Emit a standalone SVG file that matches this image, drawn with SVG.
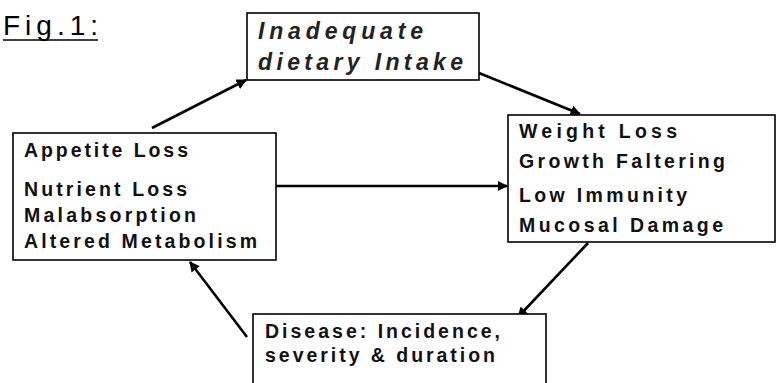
<svg xmlns="http://www.w3.org/2000/svg" width="784" height="383" viewBox="0 0 784 383">
<style>
.box{fill:#fff;stroke:#000;stroke-width:1.6}
.t{font-family:"Liberation Sans",Arial,sans-serif;font-weight:bold;font-size:19.5px;fill:#111}
.it{font-family:"Liberation Sans",Arial,sans-serif;font-weight:bold;font-style:italic;font-size:23px;fill:#222}
.fig{font-family:"Liberation Sans",Arial,sans-serif;font-size:28px;fill:#000}
.c{stroke:#000;stroke-width:2.6;fill:none;marker-end:url(#ah)}
</style>
<defs>
<marker id="ah" viewBox="0 0 10 10" refX="9" refY="5" markerWidth="4" markerHeight="4" orient="auto" markerUnits="strokeWidth">
<path d="M0,0 L10,5 L0,10 z" fill="#000"/>
</marker>
</defs>
<rect width="784" height="383" fill="#fff"/>
<g id="title">
<text class="fig" x="3" y="35" textLength="95" lengthAdjust="spacing">Fig.1:</text>
<line x1="3" y1="40" x2="98" y2="40" stroke="#000" stroke-width="1.6"/>
</g>
<g id="connectors">
<line class="c" x1="152" y1="128" x2="246" y2="80"/>
<line class="c" x1="479" y1="73" x2="580" y2="114"/>
<line class="c" x1="276" y1="186" x2="507" y2="186"/>
<line class="c" x1="588" y1="243" x2="518" y2="317"/>
<line class="c" x1="247" y1="337" x2="190" y2="262"/>
</g>
<g id="intake">
<rect class="box" x="247" y="13" width="232" height="67"/>
<text class="it" x="258" y="39" textLength="165" lengthAdjust="spacing">Inadequate</text>
<text class="it" x="258" y="70" textLength="205" lengthAdjust="spacing">dietary Intake</text>
</g>
<g id="outcomes">
<rect class="box" x="508" y="115" width="267" height="127"/>
<text class="t" x="519" y="138" textLength="158" lengthAdjust="spacing">Weight Loss</text>
<text class="t" x="519" y="168" textLength="206" lengthAdjust="spacing">Growth Faltering</text>
<text class="t" x="519" y="202" textLength="168" lengthAdjust="spacing">Low Immunity</text>
<text class="t" x="519" y="232" textLength="204" lengthAdjust="spacing">Mucosal Damage</text>
</g>
<g id="causes">
<rect class="box" x="13" y="133" width="263" height="127"/>
<text class="t" x="24" y="157" textLength="164" lengthAdjust="spacing">Appetite Loss</text>
<text class="t" x="24" y="196" textLength="163" lengthAdjust="spacing">Nutrient Loss</text>
<text class="t" x="24" y="222" textLength="172" lengthAdjust="spacing">Malabsorption</text>
<text class="t" x="24" y="248" textLength="233" lengthAdjust="spacing">Altered Metabolism</text>
</g>
<g id="disease">
<rect class="box" x="253" y="314" width="293" height="80"/>
<text class="t" x="265" y="338" textLength="235" lengthAdjust="spacing">Disease: Incidence,</text>
<text class="t" x="265" y="362" textLength="230" lengthAdjust="spacing">severity &amp; duration</text>
</g>
</svg>
